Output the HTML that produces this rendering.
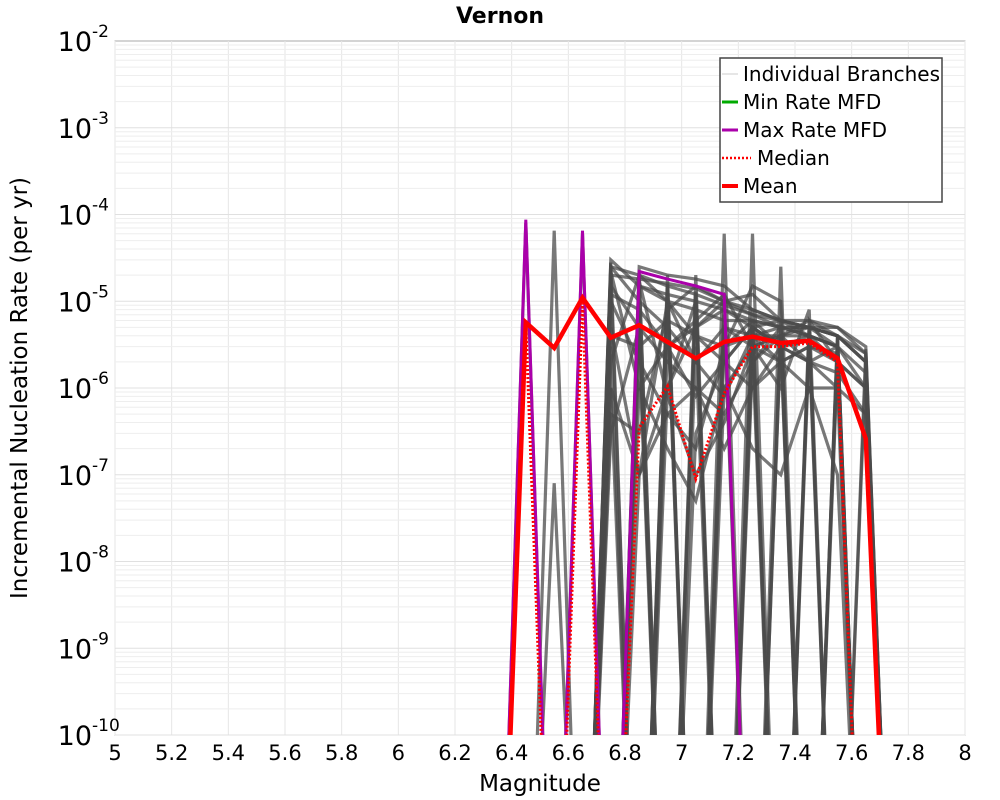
<!DOCTYPE html>
<html><head><meta charset="utf-8"><style>
html,body{margin:0;background:#fff;overflow:hidden;width:1000px;height:800px;}
svg{display:block;font-family:"DejaVu Sans","Liberation Sans",sans-serif;}
</style></head><body>
<svg id="chart" width="1000" height="800">
<text x="500" y="23" text-anchor="middle" font-size="22" font-weight="bold">Vernon</text>
<rect x="115" y="41" width="850" height="694" fill="#fff" stroke="#aaa"/>
<g id="grid"></g>
<g id="xt"></g>
<g id="yt"></g>
<defs><clipPath id="cp"><rect x="115" y="41" width="850" height="694"/></clipPath></defs>
<g id="series" clip-path="url(#cp)"></g>
<text x="540" y="791" text-anchor="middle" font-size="23">Magnitude</text>
<text transform="translate(27,388) rotate(-90)" text-anchor="middle" font-size="23">Incremental Nucleation Rate (per yr)</text>
<g>
<rect x="720" y="58" width="222" height="144" fill="#fff" stroke="#444" stroke-width="1.5"/>
<g><line x1="722" x2="738" y1="74" y2="74" stroke="#ccc" stroke-width="1"/><text x="743" y="81" font-size="20">Individual Branches</text></g>
<g><line x1="722" x2="738" y1="102" y2="102" stroke="#0a0" stroke-width="3"/><text x="743" y="109" font-size="20">Min Rate MFD</text></g>
<g><line x1="722" x2="738" y1="130" y2="130" stroke="#a0a" stroke-width="3"/><text x="743" y="137" font-size="20">Max Rate MFD</text></g>
<g><line x1="722" x2="751" y1="158" y2="158" stroke="#f00" stroke-width="2.5" stroke-dasharray="2,2"/><text x="757" y="165" font-size="20">Median</text></g>
<g><line x1="722" x2="738" y1="186" y2="186" stroke="#f00" stroke-width="4"/><text x="743" y="193" font-size="20">Mean</text></g>
</g>
</svg>
<script>
const mags=[6.35,6.45,6.55,6.65,6.75,6.85,6.95,7.05,7.15,7.25,7.35,7.45,7.55,7.65,7.75];
const meanVals=[0,5.7e-6,2.9e-6,1.1e-5,3.8e-6,5.3e-6,3.4e-6,2.2e-6,3.4e-6,3.9e-6,3.3e-6,3.5e-6,2.2e-6,2.6e-7,0];
const medianVals=[0,5.5e-6,0,1e-5,0,3.5e-7,1.05e-6,9e-8,8.7e-7,3e-6,3e-6,3.3e-6,2e-6,0,0];
const maxVals=[0,8.7e-5,0,6.5e-5,0,2.2e-5,1.8e-5,1.5e-5,1.2e-5,0,0,0,0,0,0];
const minVals=[0,0,0,0,0,0,0,0,0,0,0,0,0,0,0];
const branches=[
[0,8e-5,0,6e-5,0,0,0,0,0,0,0,0,0,0,0],
[0,0,6.5e-5,0,0,2.5e-5,2e-5,1.8e-5,1.5e-5,8e-6,6e-6,6e-6,5e-6,3e-6,0],
[0,0,0,0,3e-5,1.5e-5,1e-5,8e-6,6e-6,6e-6,5e-6,5e-6,4e-6,2.5e-6,0],
[0,0,0,0,0,0,0,0,6e-5,0,0,0,0,0,0],
[0,0,0,0,0,0,0,0,0,6e-5,0,0,0,0,0],
[0,0,0,0,0,0,0,0,0,0,2.5e-5,0,0,0,0],
[0,0,0,0,2e-5,0,1.5e-5,0,1e-5,0,6e-6,0,4e-6,0,0],
[0,0,0,0,0,2e-5,0,1.2e-5,0,8e-6,0,5e-6,0,0,0],
[0,0,0,0,1e-6,1e-7,1e-5,2e-6,5e-6,4e-6,4e-6,4e-6,3e-6,0,0],
[0,0,0,0,0,3e-6,0,3e-7,2e-6,5e-6,3e-6,3.5e-6,2e-6,1e-6,0],
[0,0,0,0,2.5e-5,1e-5,5e-6,2e-6,8e-7,4e-6,2e-6,3e-6,2.5e-6,0,0],
[0,0,8e-8,0,0,0,1e-6,1e-5,0,2e-6,5e-6,0,3e-6,0,0],
[0,0,0,0,1e-6,0,0,0,3e-6,1.5e-5,1e-5,0,0,0,0],
[0,0,0,0,0,1.5e-5,1.2e-5,1e-5,8e-6,5e-6,3e-6,2e-6,1.5e-6,5e-7,0],
[0,0,0,0,0,0,3e-6,5e-6,1e-5,1.2e-5,6e-6,4e-6,2e-6,0,0],
[0,0,0,0,3e-7,5e-6,0,0,1e-6,3e-6,4e-6,6e-6,4e-6,2e-6,0],
[0,0,0,0,0,0,2e-5,0,0,3e-6,1e-6,8e-6,0,0,0],
[0,0,0,0,5e-6,1e-7,5e-7,1e-6,2e-7,1e-6,2e-6,1e-6,1e-7,0,0],
[0,0,0,0,0,1e-6,2e-7,5e-8,1e-6,2e-7,1e-7,1e-6,1e-6,0,0],
[0,0,0,0,0,0,0,2e-5,0,0,0,4e-6,0,0,0],
[0,0,0,0,2.8e-5,0,0,0,0,5e-6,0,0,3.5e-6,0,0],
[0,0,0,0,0,2.2e-5,0,0,0,0,4e-6,0,0,2.8e-6,0],
[0,0,0,0,0,0,1.6e-5,0,0,0,0,3e-6,0,0,0],
[0,0,0,0,0,0,0,1.3e-5,0,0,0,0,2e-6,0,0],
[0,0,0,0,4e-6,3e-6,6e-6,4e-6,3e-6,4e-6,5e-6,5e-6,3e-6,0,0],
[0,0,0,0,2.5e-5,2e-5,1.5e-5,1.2e-5,9e-6,7e-6,6e-6,5e-6,4e-6,2e-6,0],
[0,0,0,0,2e-5,1.8e-5,1.6e-5,1.4e-5,1e-5,7e-6,5e-6,4e-6,3e-6,1.5e-6,0],
[0,0,0,0,1.5e-5,5e-6,2e-6,1e-6,5e-7,2e-6,4e-6,5e-6,4e-6,0,0],
[0,0,0,0,1e-5,2e-6,5e-7,2e-7,3e-6,6e-6,5e-6,4e-6,3e-6,0,0],
[0,0,0,0,0,8e-6,3e-6,8e-7,2e-6,5e-6,6e-6,5e-6,5e-6,2.5e-6,0],
[0,0,0,0,2e-6,2e-5,1e-5,4e-6,2e-6,1e-6,3e-6,4e-6,3e-6,0,0],
[0,0,0,0,5e-7,3e-7,8e-6,1.5e-5,1e-5,8e-6,6e-6,5e-6,4e-6,2e-6,0],
[0,0,0,0,0,1e-7,1e-6,5e-6,8e-6,6e-6,3e-6,2e-6,1e-6,5e-7,0],
[0,0,0,0,3e-6,0,1e-5,0,7e-6,0,4e-6,0,3e-6,0,0],
[0,0,0,0,0,6e-6,0,9e-6,0,6e-6,0,4.5e-6,0,2e-6,0],
[0,0,0,0,1.2e-5,8e-6,0,3e-6,0,5e-6,3e-6,0,4e-6,0,0],
[0,0,0,0,0,0,8e-6,0,5e-6,3e-6,0,6e-6,2e-6,1e-6,0],
[0,0,0,0,2.2e-5,1e-6,3e-6,6e-6,1.2e-5,3e-6,2e-6,3e-6,2e-6,0,0],
[0,0,0,0,0,1.7e-5,8e-7,1e-7,4e-7,3e-6,4e-6,2e-6,3e-6,1e-6,0]
];
const xTicks=[5,5.2,5.4,5.6,5.8,6,6.2,6.4,6.6,6.8,7,7.2,7.4,7.6,7.8,8];
const yDecades=[-10,-9,-8,-7,-6,-5,-4,-3,-2];
const NS='http://www.w3.org/2000/svg';
const X0=115,X1=965,Y0=735,Y1=41;
const xs=m=>X0+(m-5)/3*(X1-X0);
const ys=v=>{const l=Math.log10(Math.max(v,1e-14));return Y0-(l+10)/8*(Y0-Y1);};
function mk(t,a,p){const e=document.createElementNS(NS,t);for(const k in a)e.setAttribute(k,a[k]);p.appendChild(e);return e;}
const grid=document.getElementById('grid');
for(const t of xTicks){const g=mk('line',{x1:xs(t),x2:xs(t),y1:Y1,y2:Y0,stroke:'#e6e6e6'},grid);

}
for(let d=-10;d<-2;d++)for(let k=1;k<10;k++){const y=ys(k*Math.pow(10,d));const g=mk('line',{x1:X0,x2:X1,y1:y,y2:y,stroke:k==1?'#e0e0e0':'#eeeeee'},grid);

}
const xt=document.getElementById('xt');
for(const t of xTicks){const e=mk('text',{x:xs(t),y:760,'text-anchor':'middle','font-size':21},xt);e.textContent=String(t);

}
const yt=document.getElementById('yt');
for(const d of yDecades){const y=ys(Math.pow(10,d));const e=mk('text',{x:92,y:y+10,'text-anchor':'end','font-size':27},yt);e.textContent='10';


const s=mk('text',{x:92,y:y-4,'font-size':17},yt);s.textContent=String(d);

}
const ser=document.getElementById('series');
function line(vals,attrs,name){const pts=vals.map((v,i)=>xs(mags[i]).toFixed(1)+','+ys(v).toFixed(1)).join(' ');const p=mk('polyline',Object.assign({points:pts,fill:'none','stroke-linejoin':'miter'},attrs),ser);

}
for(const b of branches)line(b,{stroke:'rgba(75,75,75,0.75)','stroke-width':3.2},'branch-line');
line(minVals,{stroke:'#0a0','stroke-width':3},'min-rate-line');
line(maxVals,{stroke:'#a0a','stroke-width':3},'max-rate-line');
line(medianVals,{stroke:'#f00','stroke-width':3,'stroke-dasharray':'2,2'},'median-line');
line(meanVals,{stroke:'#f00','stroke-width':4.5},'mean-line');
</script>
</body></html>
